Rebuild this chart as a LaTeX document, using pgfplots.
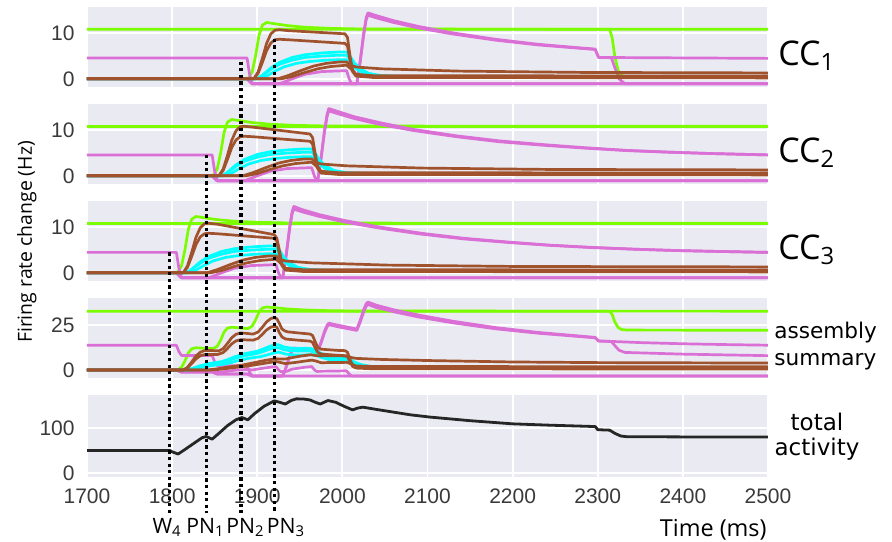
\documentclass[border=0pt]{standalone}
\usepackage{fontspec}
\setmainfont{Open Sans}
\newfontfamily\tickfont{Liberation Sans}
\newfontfamily\djv{DejaVu Sans}
\usepackage{pgfplots}
\pgfplotsset{compat=1.18}
\definecolor{bgc}{HTML}{EAEAF2}
\definecolor{lg}{HTML}{7CFC00}
\definecolor{pk}{HTML}{DA70D6}
\definecolor{br}{HTML}{A0522D}
\definecolor{cy}{HTML}{00FFFF}
\definecolor{tk}{HTML}{3A3A3A}
\pgfplotsset{
  panel/.style={scale only axis, width=340.5pt, height=40pt, xmin=1700, xmax=2500,
    xtick={1700,1800,...,2500}, grid=major, major grid style={white, line width=0.9pt},
    axis background/.style={fill=bgc}, axis line style={draw=none},
    major tick length=0pt, tick style={draw=none},
    tick label style={font=\fontsize{10.5}{12}\selectfont\tickfont, text=tk},
    /pgf/number format/assume math mode=true, /pgf/number format/1000 sep={},
    yticklabel style={inner sep=0pt, xshift=-6pt},
    xticklabel style={inner sep=0pt, yshift=-5.5pt},
    anchor=north west, clip=true},
  G/.style={draw=lg, line width=1.35pt, line join=round},
  P/.style={draw=pk, line width=1.35pt, line join=round},
  C/.style={draw=cy, line width=1.35pt, line join=round},
  B/.style={draw=br, line width=1.35pt, line join=round},
  K/.style={draw=black!85, line width=1.4pt, line join=round},
}
\begin{document}
\begin{tikzpicture}
\path (0,0) rectangle (446pt,-270.5pt);
% ---------------- CC1
\begin{axis}[panel, at={(43.5pt,-3.5pt)}, ymin=-1.8, ymax=15.8, ytick={0,10}, xticklabels={}]
\addplot[G] coordinates {(1700,10.9)(2314,10.9)(2317,9)(2320,5)(2324,1.8)(2328,0.7)(2335,0.4)(2500,0.3)};
\addplot[G] coordinates {(1700,0)(1889,0)(1894,1.5)(1898,5)(1902,9.5)(1906,11.8)(1911,12.4)(1921,12.1)(1936,11.7)(1956,11.35)(1986,11.1)(2026,10.95)(2500,10.9)};
\addplot[P] coordinates {(1700,4.6)(1888,4.6)(1891,1.0)(1894,-1.1)(2500,-1.1)};
\addplot[P] coordinates {(1700,0)(1888,0)(1894,-1.1)(1926,-1.1)(1941,0)(1956,1.0)(1976,1.6)(2005,1.8)(2008,0)(2011,-1.1)(2500,-1.1)};
\addplot[P] coordinates {(1700,0)(1888,0)(1894,-1.1)(2017,-1.1)(2021,4)(2025,10)(2028,13.5)(2030,14.5)(2040,13.9)(2060,12.8)(2090,11.5)(2130,10.1)(2180,8.7)(2230,7.6)(2280,6.8)(2297,6.55)(2301,4.7)(2500,4.5)};
\addplot[P] coordinates {(1700,0)(1888,0)(1894,-1.1)(2017,-1.1)(2021,3.8)(2025,9.6)(2028,13.0)(2030,14.0)(2040,13.4)(2060,12.4)(2090,11.15)(2130,9.85)(2180,8.5)(2230,7.45)(2280,6.7)(2297,6.45)(2301,4.7)(2316,4.65)(2320,2.5)(2325,0)(2332,-1.1)(2500,-1.1)};
\addplot[C] coordinates {(1700,0)(1900,0)(1906,0.8)(1916,2.4)(1926,3.6)(1941,4.7)(1956,5.3)(1976,5.7)(1996,5.9)(2005,5.9)(2009,5.0)(2014,3.5)(2021,2.2)(2031,1.2)(2046,0.7)(2076,0.5)(2500,0.4)};
\addplot[C] coordinates {(1700,0)(1900,0)(1906,0.7)(1916,2.1)(1926,3.2)(1941,4.1)(1956,4.7)(1976,5.0)(1996,5.2)(2005,5.2)(2009,4.4)(2014,3.1)(2021,1.9)(2031,1.05)(2046,0.6)(2076,0.4)(2500,0.35)};
\addplot[C] coordinates {(1700,0)(1904,0)(1911,0.6)(1921,1.7)(1931,2.6)(1946,3.4)(1961,3.8)(1981,4.1)(1996,4.2)(2005,4.2)(2009,3.6)(2014,2.5)(2021,1.6)(2031,0.9)(2046,0.5)(2076,0.35)(2500,0.3)};
\addplot[B] coordinates {(1700,0)(1896,0)(1901,1.5)(1906,4.5)(1911,7.8)(1916,9.9)(1921,10.7)(1926,10.8)(1936,10.6)(2003,9.9)(2006,9.1)(2009,5)(2012,2)(2016,0.9)(2036,0.5)(2500,0.4)};
\addplot[B] coordinates {(1700,0)(1896,0)(1901,1.2)(1906,3.6)(1911,6.2)(1916,7.9)(1921,8.6)(1926,8.7)(1936,8.6)(2003,7.8)(2006,7.2)(2009,4)(2012,1.6)(2016,0.6)(2036,0.3)(2500,0.2)};
\addplot[B] coordinates {(1700,0)(1924,0)(1936,0.7)(1951,1.8)(1966,2.8)(1981,3.4)(1996,3.7)(2005,3.7)(2010,3.0)(2016,2.6)(2046,2.2)(2136,1.7)(2286,1.4)(2500,1.3)};
\addplot[B] coordinates {(1700,0)(1928,0)(1941,0.5)(1956,1.4)(1971,2.2)(1986,2.7)(2005,3.0)(2010,2.2)(2016,1.0)(2036,0.7)(2500,0.6)};
\coordinate (PN2top) at (axis cs:1881,3.8);
\coordinate (PN3top) at (axis cs:1920,8.8);
\end{axis}
% ---------------- CC2
\begin{axis}[panel, at={(43.5pt,-52pt)}, ymin=-1.8, ymax=15.8, ytick={0,10}, xticklabels={}]
\addplot[G] coordinates {(1700,10.9)(2500,10.9)};
\addplot[G] coordinates {(1700,0)(1848,0)(1853,1.5)(1857,5)(1861,9.5)(1865,11.8)(1870,12.4)(1880,12.1)(1895,11.7)(1915,11.35)(1945,11.1)(1985,10.95)(2500,10.9)};
\addplot[P] coordinates {(1700,4.6)(1847,4.6)(1850,1.0)(1853,-1.1)(2500,-1.1)};
\addplot[P] coordinates {(1700,0)(1847,0)(1853,-1.1)(1885,-1.1)(1900,0)(1915,1.0)(1935,1.6)(1964,1.8)(1967,0)(1970,-1.1)(2500,-1.1)};
\addplot[P] coordinates {(1700,0)(1847,0)(1853,-1.1)(1971,-1.1)(1975,4)(1979,10)(1982,13.5)(1984,14.8)(1994,14.2)(2014,13.0)(2044,11.7)(2084,10.2)(2134,8.8)(2184,7.7)(2234,6.9)(2284,6.2)(2334,5.6)(2384,5.2)(2434,4.9)(2500,4.6)};
\addplot[P] coordinates {(1700,0)(1847,0)(1853,-1.1)(1971,-1.1)(1975,3.8)(1979,9.6)(1982,13.0)(1984,14.3)(1994,13.7)(2014,12.6)(2044,11.3)(2084,9.95)(2134,8.6)(2184,7.5)(2234,6.75)(2284,6.1)(2334,5.55)(2384,5.2)(2434,4.9)(2500,4.6)};
\addplot[C] coordinates {(1700,0)(1859,0)(1865,0.8)(1875,2.4)(1885,3.6)(1900,4.7)(1915,5.3)(1935,5.7)(1955,5.9)(1964,5.9)(1968,5.0)(1973,3.5)(1980,2.2)(1990,1.2)(2005,0.7)(2035,0.5)(2500,0.4)};
\addplot[C] coordinates {(1700,0)(1859,0)(1865,0.7)(1875,2.1)(1885,3.2)(1900,4.1)(1915,4.7)(1935,5.0)(1955,5.2)(1964,5.2)(1968,4.4)(1973,3.1)(1980,1.9)(1990,1.05)(2005,0.6)(2035,0.4)(2500,0.35)};
\addplot[C] coordinates {(1700,0)(1863,0)(1870,0.6)(1880,1.7)(1890,2.6)(1905,3.4)(1920,3.8)(1940,4.1)(1955,4.2)(1964,4.2)(1968,3.6)(1973,2.5)(1980,1.6)(1990,0.9)(2005,0.5)(2035,0.35)(2500,0.3)};
\addplot[B] coordinates {(1700,0)(1855,0)(1860,1.5)(1865,4.5)(1870,7.8)(1875,9.9)(1880,10.8)(1885,10.9)(1895,10.7)(1962,9.2)(1965,8.4)(1968,5)(1971,2)(1975,0.9)(1995,0.5)(2500,0.4)};
\addplot[B] coordinates {(1700,0)(1855,0)(1860,1.2)(1865,3.6)(1870,6.2)(1875,7.9)(1880,8.6)(1885,8.7)(1895,8.6)(1962,7.6)(1965,7.0)(1968,4)(1971,1.6)(1975,0.6)(1995,0.3)(2500,0.2)};
\addplot[B] coordinates {(1700,0)(1883,0)(1895,0.7)(1910,1.8)(1925,2.8)(1940,3.4)(1955,3.7)(1964,3.7)(1969,3.0)(1975,2.6)(2005,2.2)(2095,1.7)(2245,1.4)(2500,1.3)};
\addplot[B] coordinates {(1700,0)(1887,0)(1900,0.5)(1915,1.4)(1930,2.2)(1945,2.7)(1964,3.0)(1969,2.2)(1975,1.0)(1995,0.7)(2500,0.6)};
\coordinate (PN1top) at (axis cs:1840,4.6);
\end{axis}
% ---------------- CC3
\begin{axis}[panel, at={(43.5pt,-100.5pt)}, ymin=-1.8, ymax=15.8, ytick={0,10}, xticklabels={}]
\addplot[G] coordinates {(1700,10.9)(2500,10.9)};
\addplot[G] coordinates {(1700,0)(1806,0)(1811,1.5)(1815,5)(1819,9.5)(1823,11.8)(1828,12.4)(1838,12.1)(1853,11.7)(1873,11.35)(1903,11.1)(1943,10.95)(2500,10.9)};
\addplot[P] coordinates {(1700,4.5)(1805,4.5)(1808,1.0)(1811,-1.1)(2500,-1.1)};
\addplot[P] coordinates {(1700,0)(1805,0)(1811,-1.1)(1843,-1.1)(1858,0)(1873,1.0)(1893,1.6)(1922,1.8)(1925,0)(1928,-1.1)(2500,-1.1)};
\addplot[P] coordinates {(1700,0)(1805,0)(1811,-1.1)(1930,-1.1)(1934,4)(1938,10)(1941,13.5)(1943,14.6)(1953,13.9)(1973,12.8)(2003,11.5)(2043,10.1)(2093,8.7)(2143,7.6)(2193,6.8)(2243,6.1)(2293,5.6)(2343,5.2)(2393,4.9)(2443,4.7)(2500,4.5)};
\addplot[P] coordinates {(1700,0)(1805,0)(1811,-1.1)(1930,-1.1)(1934,3.8)(1938,9.6)(1941,13.0)(1943,14.0)(1953,13.4)(1973,12.4)(2003,11.15)(2043,9.85)(2093,8.5)(2143,7.45)(2193,6.7)(2243,6.05)(2293,5.55)(2343,5.2)(2393,4.9)(2443,4.7)(2500,4.5)};
\addplot[C] coordinates {(1700,0)(1817,0)(1823,0.8)(1833,2.4)(1843,3.6)(1858,4.7)(1873,5.3)(1893,5.7)(1913,5.9)(1922,5.9)(1926,5.0)(1931,3.5)(1938,2.2)(1948,1.2)(1963,0.7)(1993,0.5)(2500,0.4)};
\addplot[C] coordinates {(1700,0)(1817,0)(1823,0.7)(1833,2.1)(1843,3.2)(1858,4.1)(1873,4.7)(1893,5.0)(1913,5.2)(1922,5.2)(1926,4.4)(1931,3.1)(1938,1.9)(1948,1.05)(1963,0.6)(1993,0.4)(2500,0.35)};
\addplot[C] coordinates {(1700,0)(1821,0)(1828,0.6)(1838,1.7)(1848,2.6)(1863,3.4)(1878,3.8)(1898,4.1)(1913,4.2)(1922,4.2)(1926,3.6)(1931,2.5)(1938,1.6)(1948,0.9)(1963,0.5)(1993,0.35)(2500,0.3)};
\addplot[B] coordinates {(1700,0)(1813,0)(1818,1.5)(1823,4.5)(1828,7.8)(1833,9.9)(1838,10.8)(1843,10.9)(1853,10.7)(1920,8.4)(1923,7.6)(1926,5)(1929,2)(1933,0.9)(1953,0.5)(2500,0.4)};
\addplot[B] coordinates {(1700,0)(1813,0)(1818,1.2)(1823,3.6)(1828,6.2)(1833,7.9)(1838,8.6)(1843,8.7)(1853,8.6)(1920,7.6)(1923,7.0)(1926,4)(1929,1.6)(1933,0.6)(1953,0.3)(2500,0.2)};
\addplot[B] coordinates {(1700,0)(1841,0)(1853,0.7)(1868,1.8)(1883,2.8)(1898,3.4)(1913,3.7)(1922,3.7)(1927,3.0)(1933,2.6)(1963,2.2)(2053,1.7)(2203,1.4)(2500,1.3)};
\addplot[B] coordinates {(1700,0)(1845,0)(1858,0.5)(1873,1.4)(1888,2.2)(1903,2.7)(1922,3.0)(1927,2.2)(1933,1.0)(1953,0.7)(2500,0.6)};
\coordinate (W4top) at (axis cs:1797,4.5);
\end{axis}
% ---------------- assembly summary
\begin{axis}[panel, at={(43.5pt,-149pt)}, ymin=-4.4, ymax=40, ytick={0,25}, xticklabels={}]
\addplot[G] coordinates {(1700,32.7)(2314,32.7)(2317,30.8)(2320,26.8)(2324,23.6)(2328,22.5)(2335,22.2)(2500,22.1)};
\addplot[G] coordinates {(1700,0)(1806,0)(1811,1.5)(1815,5)(1819,9.5)(1823,11.8)(1828,12.4)(1838,12.1)(1848,11.9)(1853,13.2)(1857,16.6)(1861,21.1)(1865,23.3)(1870,23.8)(1880,23.4)(1889,23.0)(1894,24.4)(1898,27.8)(1902,32.2)(1906,34.5)(1911,35.0)(1921,34.6)(1936,33.9)(1956,33.35)(1986,32.95)(2026,32.75)(2500,32.7)};
\addplot[P] coordinates {(1700,13.8)(1805,13.8)(1808,10.2)(1811,8.1)(1847,8.1)(1850,4.5)(1853,2.4)(1888,2.4)(1891,-1.2)(1894,-3.3)(2500,-3.3)};
\addplot[P] coordinates {(1700,0)(1805,0)(1811,-1.1)(1843,-1.1)(1847,-0.6)(1853,-1.25)(1858,-1.1)(1873,-0.1)(1885,0.26)(1888,0.35)(1894,0.06)(1900,0.52)(1915,1.6)(1922,1.9)(1925,0.15)(1928,-0.9)(1935,-0.6)(1941,0.52)(1956,1.6)(1964,1.95)(1967,0.2)(1970,-0.8)(1976,-0.6)(2005,-0.4)(2008,-2.2)(2011,-3.3)(2500,-3.3)};
\addplot[P] coordinates {(1700,0)(1805,0)(1811,-1.1)(1847,-1.1)(1853,-2.2)(1888,-2.2)(1894,-3.3)(1930,-3.3)(1934,1.8)(1938,7.8)(1941,11.3)(1943,12.3)(1953,11.7)(1971,10.7)(1975,15.65)(1979,21.5)(1982,24.9)(1984,26.05)(1994,25.0)(2017,22.8)(2021,27.7)(2025,33.5)(2028,36.85)(2030,37.75)(2040,36.0)(2060,33.5)(2090,30.5)(2130,27.1)(2180,23.6)(2230,20.9)(2297,18.15)(2301,16.2)(2350,15.25)(2400,14.6)(2450,14.15)(2500,13.8)};
\addplot[P] coordinates {(1700,0)(1805,0)(1811,-1.1)(1847,-1.1)(1853,-2.2)(1888,-2.2)(1894,-3.3)(1930,-3.3)(1934,1.6)(1938,7.4)(1941,10.8)(1943,11.8)(1953,11.2)(1971,10.25)(1975,15.0)(1979,20.65)(1982,23.95)(1984,25.2)(1994,24.1)(2017,22.0)(2021,26.6)(2025,32.2)(2028,35.45)(2030,36.35)(2040,34.7)(2060,32.4)(2090,29.4)(2130,26.2)(2180,22.9)(2230,20.45)(2297,17.9)(2301,16.1)(2316,15.85)(2320,13.6)(2325,11.0)(2332,9.8)(2400,8.85)(2500,8.0)};
\addplot[C] coordinates {(1700,0)(1817,0)(1823,0.8)(1833,2.4)(1843,3.6)(1858,4.7)(1865,5.75)(1873,7.3)(1885,9.1)(1893,9.8)(1900,10.5)(1906,11.5)(1913,12.9)(1916,13.4)(1922,14.2)(1926,13.9)(1931,12.9)(1938,12.3)(1948,11.9)(1956,12.1)(1963,12.0)(1968,11.1)(1973,9.7)(1980,8.5)(1990,7.5)(1996,7.3)(2005,7.0)(2009,6.0)(2014,4.5)(2021,3.2)(2031,2.2)(2046,1.6)(2076,1.35)(2150,1.25)(2500,1.2)};
\addplot[C] coordinates {(1700,0)(1817,0)(1823,0.7)(1833,2.1)(1843,3.2)(1858,4.1)(1865,5.05)(1873,6.4)(1885,8.0)(1893,8.6)(1900,9.25)(1906,10.1)(1913,11.35)(1916,11.8)(1922,12.5)(1926,12.25)(1931,11.35)(1938,10.8)(1948,10.5)(1956,10.65)(1963,10.55)(1968,9.75)(1973,8.55)(1980,7.5)(1990,6.6)(1996,6.4)(2005,6.15)(2009,5.3)(2014,3.95)(2021,2.8)(2031,1.95)(2046,1.4)(2076,1.2)(2150,1.1)(2500,1.05)};
\addplot[C] coordinates {(1700,0)(1821,0)(1827,0.55)(1837,1.7)(1847,2.55)(1862,3.35)(1869,4.1)(1877,5.2)(1889,6.45)(1897,7.0)(1904,7.45)(1910,8.2)(1917,9.15)(1920,9.5)(1925,10.0)(1929,9.5)(1934,8.8)(1941,8.5)(1951,8.3)(1959,8.5)(1966,8.4)(1971,7.8)(1976,6.9)(1983,6.0)(1993,5.3)(1999,5.15)(2008,4.9)(2012,4.1)(2017,3.0)(2024,2.1)(2034,1.45)(2049,1.0)(2079,0.85)(2500,0.8)};
\addplot[B] coordinates {(1700,0)(1813,0)(1818,1.5)(1823,4.5)(1828,7.8)(1833,9.9)(1838,10.8)(1843,10.9)(1853,10.7)(1855,10.63)(1860,11.96)(1865,14.79)(1870,17.92)(1875,19.85)(1880,20.57)(1885,20.5)(1895,19.96)(1901,21.1)(1906,23.8)(1911,26.8)(1916,28.6)(1920,29.1)(1923,28.5)(1926,25.9)(1929,22.8)(1933,21.6)(1936,21.2)(1953,20.4)(1962,20.0)(1965,19.2)(1968,15.8)(1971,12.7)(1975,11.6)(1995,10.9)(2003,10.8)(2006,9.9)(2009,5.8)(2012,2.8)(2016,1.7)(2036,1.3)(2100,1.2)(2500,1.2)};
\addplot[B] coordinates {(1700,0)(1813,0)(1818,1.2)(1823,3.6)(1828,6.2)(1833,7.9)(1838,8.6)(1843,8.7)(1853,8.6)(1860,9.7)(1865,12.0)(1870,14.55)(1875,16.2)(1880,16.8)(1885,16.8)(1895,16.6)(1901,17.6)(1906,19.85)(1911,22.3)(1916,23.85)(1920,24.3)(1923,23.8)(1926,20.8)(1929,18.4)(1933,17.3)(1936,17.1)(1953,16.4)(1962,16.1)(1965,15.4)(1968,12.4)(1971,9.9)(1975,8.9)(1995,8.2)(2003,8.0)(2006,7.5)(2009,4.5)(2012,2.1)(2016,1.1)(2036,0.7)(2500,0.6)};
\addplot[B] coordinates {(1700,0)(1841,0)(1853,0.7)(1868,1.8)(1883,2.8)(1895,3.98)(1910,5.44)(1922,6.3)(1927,6.1)(1933,6.13)(1940,6.83)(1951,7.77)(1963,8.5)(1969,8.05)(1975,7.85)(1981,7.95)(1996,7.95)(2005,7.8)(2010,7.0)(2016,6.5)(2046,5.9)(2100,5.3)(2200,4.5)(2300,4.15)(2500,3.9)};
\addplot[B] coordinates {(1700,0)(1845,0)(1858,0.5)(1873,1.4)(1888,2.2)(1900,3.1)(1915,4.25)(1922,4.77)(1927,4.23)(1933,3.6)(1945,4.25)(1956,5.0)(1964,5.5)(1969,5.03)(1975,4.07)(1986,4.2)(1995,4.15)(2005,4.3)(2010,3.5)(2016,2.3)(2036,2.0)(2500,1.8)};
\end{axis}
% ---------------- total activity
\begin{axis}[panel, at={(43.5pt,-197.5pt)}, height=41pt, ymin=-9, ymax=173, ytick={0,100}]
\addplot[K] coordinates {(1700,50)(1797,50)(1800,47)(1807,42)(1815,52)(1825,65)(1835,78)(1840,81)(1847,75)(1855,88)(1865,105)(1875,118)(1882,123)(1889,118)(1897,132)(1908,148)(1920,160)(1926,157)(1933,153)(1940,161)(1946,164.5)(1955,164)(1962,162)(1968,157)(1974,153)(1983,160.7)(1992,157)(2002,148)(2012,140)(2018,144)(2024,146)(2040,141)(2060,135)(2080,129)(2103,124)(2150,116)(2200,109)(2244,106)(2297,103)(2300,96)(2314,95)(2320,88)(2327,82)(2334,80.5)(2400,80)(2500,80)};
\end{axis}
% ---------------- annotations
\tikzset{dotl/.style={line width=1.6pt, dash pattern=on 1.6pt off 1.7pt}}
\coordinate (bot) at (0,-256.5pt);
\coordinate (lab) at (0,-266.5pt);
\draw[dotl] (W4top) -- (W4top |- bot);
\draw[dotl] (PN1top) -- (PN1top |- bot);
\draw[dotl] (PN2top) -- (PN2top |- bot);
\draw[dotl] (PN3top) -- (PN3top |- bot);
\path (W4top |- lab) ++(-1.25pt,0) node[anchor=base, inner sep=0pt, font=\fontsize{10.6}{13}\selectfont] {W\textsubscript{4}};
\path (PN1top |- lab) ++(-0.3pt,0) node[anchor=base, inner sep=0pt, font=\fontsize{10.6}{13}\selectfont] {PN\textsubscript{1}};
\path (PN2top |- lab) ++(2.15pt,0) node[anchor=base, inner sep=0pt, font=\fontsize{10.6}{13}\selectfont] {PN\textsubscript{2}};
\path (PN3top |- lab) ++(5.85pt,0) node[anchor=base, inner sep=0pt, font=\fontsize{10.6}{13}\selectfont] {PN\textsubscript{3}};
\node[anchor=base east, inner sep=0pt, font=\fontsize{11.7}{13}\selectfont] at (383.5pt,-268pt) {Time (ms)};
\node[rotate=90, anchor=base, inner sep=0pt, font=\fontsize{9.7}{11}\selectfont] at (16pt,-121pt) {Firing rate change (Hz)};
\node[anchor=base west, inner sep=0pt, font=\fontsize{17}{20}\selectfont] at (389pt,-32.5pt) {CC\textsubscript{1}};
\node[anchor=base west, inner sep=0pt, font=\fontsize{17}{20}\selectfont] at (389pt,-81pt) {CC\textsubscript{2}};
\node[anchor=base west, inner sep=0pt, font=\fontsize{17}{20}\selectfont] at (389pt,-129.5pt) {CC\textsubscript{3}};
\node[anchor=base west, inner sep=0pt, font=\djv\fontsize{10.8}{13}\selectfont] at (387pt,-169pt) {assembly};
\node[anchor=base west, inner sep=0pt, font=\djv\fontsize{10.8}{13}\selectfont] at (387pt,-182.5pt) {summary};
\node[anchor=base, inner sep=0pt, font=\djv\fontsize{11.5}{13}\selectfont] at (408.5pt,-215pt) {total};
\node[anchor=base, inner sep=0pt, font=\djv\fontsize{11.5}{13}\selectfont] at (408.5pt,-227.5pt) {activity};
\end{tikzpicture}
\end{document}
